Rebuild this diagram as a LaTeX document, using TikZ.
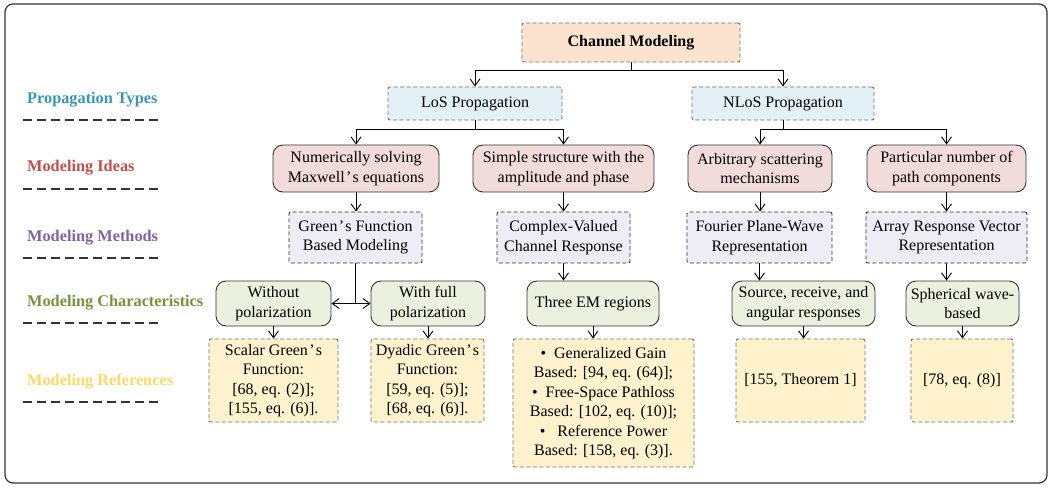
\documentclass[tikz,border=0pt]{standalone}
\usepackage{fontspec}
\setmainfont{Liberation Serif}
\usetikzlibrary{arrows.meta}
\definecolor{cTop}{HTML}{FBE3D0}
\definecolor{cLos}{HTML}{E3F1F6}
\definecolor{cIdea}{HTML}{F2DCDB}
\definecolor{cMeth}{HTML}{EEECF4}
\definecolor{cChar}{HTML}{EBF1DE}
\definecolor{cRef}{HTML}{FFF2CC}
\definecolor{lPT}{HTML}{3A95B4}
\definecolor{lMI}{HTML}{C0504D}
\definecolor{lMM}{HTML}{8064A2}
\definecolor{lMC}{HTML}{77933C}
\definecolor{lMR}{HTML}{FFD966}
\definecolor{dashgray}{HTML}{707070}
\definecolor{darkline}{HTML}{333333}
\newcommand\ap{\kern0.08em’\kern0.08em}
\tikzset{
  base/.style={font=\fontsize{16pt}{19.5pt}\selectfont, align=center, inner sep=0pt, anchor=center},
  dashbox/.style={base, draw=dashgray, line width=0.9pt, dash pattern=on 4pt off 2.5pt, rounded corners=2pt},
  topbox/.style={dashbox, fill=cTop, font=\fontsize{16pt}{19.5pt}\selectfont\bfseries},
  losbox/.style={dashbox, fill=cLos},
  methbox/.style={dashbox, draw=darkline, fill=cMeth},
  refbox/.style={dashbox, fill=cRef},
  ideabox/.style={base, draw=darkline, line width=0.9pt, rounded corners=10pt, fill=cIdea},
  charbox/.style={base, draw=darkline, line width=0.9pt, rounded corners=10pt, fill=cChar},
  lbl/.style={font=\fontsize{16.3pt}{19pt}\selectfont\bfseries, anchor=west, inner sep=0pt},
  sepline/.style={draw=darkline, line width=1.6pt, dash pattern=on 9pt off 5pt},
  arr/.style={draw=black, line width=0.9pt, -{Straight Barb[length=7pt,width=10pt]}},
  frame/.style={draw=darkline, line width=1.2pt, rounded corners=8pt}
}
\begin{document}
\begin{tikzpicture}[x=1pt,y=-1pt]
\useasboundingbox (0,0) rectangle (1052,489);
\draw[frame] (5,4) rectangle (1047,483);

% left labels
\node[lbl, text=lPT] (lpt) at (27,100) {Propagation Types};
\node[lbl, text=lMI] (lmi) at (27,168) {Modeling Ideas};
\node[lbl, text=lMM] (lmm) at (27,238) {Modeling Methods};
\node[lbl, text=lMC] (lmc) at (27,303) {Modeling Characteristics};
\node[lbl, text=lMR] (lmr) at (27,382) {Modeling References};
\draw[sepline] (23,120) -- (162,120);
\draw[sepline] (23,189) -- (162,189);
\draw[sepline] (23,258) -- (162,258);
\draw[sepline] (23,323) -- (162,323);
\draw[sepline] (23,402) -- (162,402);

% row 0/1
\node[topbox, minimum width=218pt, minimum height=39pt] (cm) at (631,42.5) {Channel Modeling};
\node[losbox, minimum width=174pt, minimum height=33pt] (los) at (475,103.5) {LoS Propagation};
\node[losbox, minimum width=182pt, minimum height=33pt] (nlos) at (783,103.5) {NLoS Propagation};

% row 2
\node[ideabox, minimum width=166pt, minimum height=47pt] (n1) at (356,168.5) {Numerically solving\\Maxwell\ap s equations};
\node[ideabox, minimum width=181pt, minimum height=47pt] (n2) at (563.5,168.5) {Simple structure with the\\amplitude and phase};
\node[ideabox, minimum width=144pt, minimum height=47pt] (n3) at (760,168.5) {Arbitrary scattering\\mechanisms};
\node[ideabox, minimum width=159pt, minimum height=47pt] (n4) at (946.5,168.5) {Particular number of\\path components};

% row 3
\node[methbox, minimum width=133pt, minimum height=51pt] (m1) at (355.5,237.5) {Green\ap s Function\\Based Modeling};
\node[methbox, minimum width=133pt, minimum height=51pt] (m2) at (563.5,237.5) {Complex-Valued\\Channel Response};
\node[methbox, minimum width=145pt, minimum height=51pt] (m3) at (759.5,237.5) {Fourier Plane-Wave\\Representation};
\node[methbox, minimum width=161pt, minimum height=51pt] (m4) at (946.5,237.5) {Array Response Vector\\Representation};

% row 4
\node[charbox, minimum width=115pt, minimum height=45pt] (c1) at (273.5,303.5) {Without\\polarization};
\node[charbox, minimum width=114pt, minimum height=45pt] (c2) at (428,303.5) {With full\\polarization};
\node[charbox, minimum width=132pt, minimum height=45pt] (c3) at (593,303.5) {Three EM regions};
\node[charbox, minimum width=143pt, minimum height=45pt] (c4) at (803.5,303.5) {Source, receive, and\\angular responses};
\node[charbox, minimum width=113pt, minimum height=45pt] (c5) at (962.5,303.5) {Spherical wave-\\based};

% row 5
\node[refbox, minimum width=129pt, minimum height=83pt] (r1) at (273.5,380.5) {Scalar Green\ap s\\Function:\\{[}68, eq. (2){]};\\{[}155, eq. (6){]}.};
\node[refbox, minimum width=113pt, minimum height=83pt] (r2) at (427.5,380.5) {Dyadic Green\ap s\\Function:\\{[}59, eq. (5){]};\\{[}68, eq. (6){]}.};
\node[refbox, minimum width=181pt, minimum height=128pt] (r3) at (603.5,403) {\textbullet\ \ Generalized Gain\\Based: {[}94, eq. (64){]};\\\textbullet\ \ Free-Space Pathloss\\Based: {[}102, eq. (10){]};\\\textbullet\ \ \ Reference Power\\Based: {[}158, eq. (3){]}.};
\node[refbox, minimum width=129pt, minimum height=83pt] (r4) at (800.5,380.5) {[155, Theorem 1]};
\node[refbox, minimum width=102pt, minimum height=83pt] (r5) at (962,380.5) {[78, eq. (8)]};

% connectors
\draw[arr] (cm.south) -- ++(0,8) -| (los.north);
\draw[arr] (cm.south) -- ++(0,8) -| (nlos.north);
\draw[arr] (los.south) -- ++(0,9) -| (n1.north);
\draw[arr] (los.south) -- ++(0,9) -| (n2.north);
\draw[arr] (nlos.south) -- ++(0,9) -| (n3.north);
\draw[arr] (nlos.south) -- ++(0,9) -| (n4.north);
\draw[arr] (n1.south) -- (n1.south |- m1.north);
\draw[arr] (n2.south) -- (n2.south |- m2.north);
\draw[arr] (n3.south) -- (n3.south |- m3.north);
\draw[arr] (n4.south) -- (n4.south |- m4.north);
\draw[arr] (m1.south) |- (c1.east);
\draw[arr] (m1.south) |- (c2.west);
\draw[arr] (m2.south) -- (m2.south |- c3.north);
\draw[arr] (m3.south) -- (m3.south |- c4.north);
\draw[arr] (m4.south) -- (m4.south |- c5.north);
\draw[arr] (c1.south) -- (c1.south |- r1.north);
\draw[arr] (c2.south) -- (c2.south |- r2.north);
\draw[arr] (c3.south) -- (c3.south |- r3.north);
\draw[arr] (c4.south) -- (c4.south |- r4.north);
\draw[arr] (c5.south) -- (c5.south |- r5.north);
\end{tikzpicture}
\end{document}
